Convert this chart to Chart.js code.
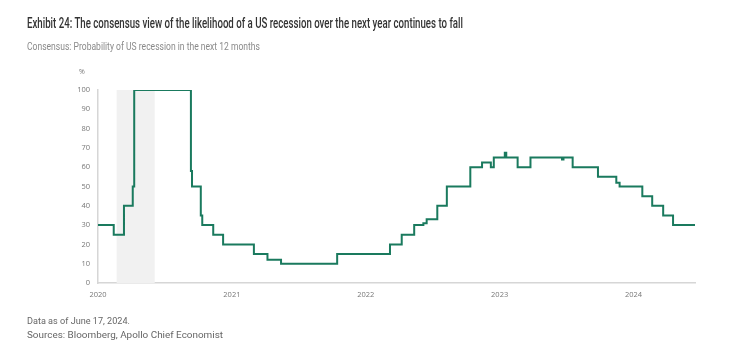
<!DOCTYPE html>
<html>
<head>
<meta charset="utf-8">
<script src="https://cdn.jsdelivr.net/npm/chart.js@4"></script>
<style>
  html, body { margin: 0; padding: 0; background: #ffffff; }
  #wrap { position: relative; width: 746px; height: 357px; overflow: hidden; }
  canvas { position: absolute; left: 0; top: 0; }
  .txt { position: absolute; white-space: nowrap; transform-origin: 0 50%; font-family: Roboto, "Open Sans", sans-serif; }
</style>
</head>
<body>
<div id="wrap">
  <canvas id="c" width="746" height="357"></canvas>
  <div class="txt" id="t1" data-w="436" style="left:27px; top:13px; font-size:14px; line-height:20px; font-weight:500; color:#333333;">Exhibit 24: The consensus view of the likelihood of a US recession over the next year continues to fall</div>
  <div class="txt" id="t2" data-w="233" style="left:27px; top:38px; font-size:11.5px; line-height:16px; color:#8a8a8a;">Consensus: Probability of US recession in the next 12 months</div>
  <div class="txt" id="t3" style="left:79px; top:67px; font-size:7px; line-height:10px; color:#777777; font-family:'Open Sans', sans-serif;">%</div>
  <div class="txt" id="t4" data-w="103" style="left:27px; top:314px; font-size:9.5px; line-height:14px; color:#666666;">Data as of June 17, 2024.</div>
  <div class="txt" id="t5" data-w="196" style="left:27px; top:328px; font-size:9.5px; line-height:14px; color:#666666;">Sources: Bloomberg, Apollo Chief Economist</div>
</div>
<script>
// ---- data ----
const changeDates = [
  "2020-01-01","2020-02-13","2020-03-12","2020-04-05","2020-04-09",
  "2020-09-11","2020-09-14","2020-10-08","2020-10-12","2020-11-11",
  "2020-12-08","2021-03-02","2021-04-08","2021-05-15","2021-10-15",
  "2022-03-08","2022-04-09","2022-05-13","2022-06-07","2022-06-16",
  "2022-07-15","2022-08-10","2022-10-13","2022-11-14","2022-12-08",
  "2022-12-16","2023-01-15","2023-01-19","2023-02-19","2023-03-26",
  "2023-06-20","2023-06-24","2023-07-19","2023-09-26","2023-11-15",
  "2023-11-24","2024-01-25","2024-02-21","2024-03-22","2024-04-18",
  "2024-06-17"
];
const recessionProb = [
  30, 25, 40, 50, 100,
  58, 50, 35, 30, 25,
  20, 15, 12, 10, 15,
  20, 25, 30, 31, 33,
  40, 50, 60, 62.5, 60,
  65, 67.5, 65, 60, 65,
  64, 65, 60, 55, 52,
  50, 45, 40, 35, 30,
  30
];
const recessionPeriod = ["2020-02-21", "2020-06-04"];
const yearTicks = [2020, 2021, 2022, 2023, 2024];
const yTicks = [0, 10, 20, 30, 40, 50, 60, 70, 80, 90, 100];

function toYear(s) {
  const [y, m, d] = s.split("-").map(Number);
  const start = Date.UTC(y, 0, 1), end = Date.UTC(y + 1, 0, 1);
  return y + (Date.UTC(y, m - 1, d) - start) / (end - start);
}

const points = changeDates.map((d, i) => ({ x: toYear(d), y: recessionProb[i] }));

const shadePlugin = {
  id: 'shade',
  beforeDatasetsDraw(chart) {
    const { ctx, scales } = chart;
    const x1 = scales.x.getPixelForValue(toYear(recessionPeriod[0]));
    const x2 = scales.x.getPixelForValue(toYear(recessionPeriod[1]));
    const yTop = scales.y.getPixelForValue(100);
    const yBot = scales.y.getPixelForValue(0);
    ctx.save();
    ctx.fillStyle = '#f1f1f1';
    ctx.fillRect(x1, yTop, x2 - x1, yBot - yTop);
    ctx.restore();
  }
};

new Chart(document.getElementById('c'), {
  type: 'line',
  data: {
    datasets: [{
      data: points,
      borderColor: '#1a7a5e',
      borderWidth: 2,
      pointRadius: 0,
      stepped: 'before',
      fill: false
    }]
  },
  options: {
    responsive: false,
    animation: false,
    devicePixelRatio: 1,
    layout: { padding: { left: 0, top: 90, right: 51, bottom: 54 } },
    plugins: { legend: { display: false }, tooltip: { enabled: false } },
    scales: {
      x: {
        type: 'linear',
        min: toYear(changeDates[0]),
        max: toYear(changeDates[changeDates.length - 1]),
        afterBuildTicks: s => { s.ticks = yearTicks.map(v => ({ value: v })); },
        afterFit: s => { s.height = 20; },
        grid: { display: false, drawTicks: false },
        border: { display: true, color: '#d6d6d6', width: 1.5 },
        ticks: {
          padding: 7, color: '#777777', maxRotation: 0, autoSkip: false,
          font: { family: "'Open Sans', sans-serif", size: 7.5 },
          callback: v => String(v)
        }
      },
      y: {
        min: 0, max: 100,
        afterBuildTicks: s => { s.ticks = yTicks.map(v => ({ value: v })); },
        afterFit: s => { s.width = 98; },
        grid: { display: false, drawTicks: false },
        border: { display: true, color: '#d6d6d6', width: 1.5 },
        ticks: {
          padding: 8, color: '#777777',
          font: { family: "'Open Sans', sans-serif", size: 7.5 }
        }
      }
    }
  },
  plugins: [shadePlugin]
});

document.querySelectorAll('.txt[data-w]').forEach(el => {
  const w = el.getBoundingClientRect().width;
  const target = parseFloat(el.dataset.w);
  el.style.transform = 'scaleX(' + (target / w) + ')';
});
</script>
</body>
</html>
